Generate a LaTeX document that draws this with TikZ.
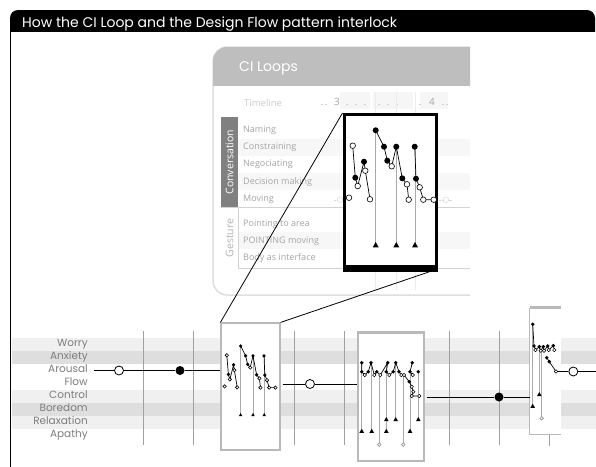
\documentclass[tikz,border=0pt]{standalone}
\usepackage{fontspec}
\setmainfont{Open Sans}
\newfontfamily\headfont{Poppins}
\usetikzlibrary{positioning}
\definecolor{bandlight}{RGB}{240,240,240}
\definecolor{banddark}{RGB}{222,222,222}
\definecolor{moodgray}{RGB}{125,125,125}
\definecolor{panelgray}{RGB}{190,190,190}
\definecolor{convgray}{RGB}{128,128,128}
\definecolor{rowgray}{RGB}{165,165,165}
\definecolor{gridgray}{RGB}{160,160,160}
\definecolor{stemgray}{RGB}{170,170,170}

\begin{document}
\begin{tikzpicture}[x=1pt,y=-1pt]
    % Style definitions
    \tikzset{
      mood/.style={font=\headfont\fontsize{10.5}{11}\selectfont, text=moodgray, anchor=east, inner sep=0pt, text height=7.5pt, text depth=2pt},
      rowlbl/.style={font=\fontsize{9}{10}\selectfont, text=rowgray, anchor=west, inner sep=0pt},
      gridln/.style={draw=gridgray, line width=0.7pt},
      flowbox/.style={draw=gray!55, fill=white, line width=1.2pt, inner sep=0pt},
      flowline/.style={draw=black, line width=0.9pt},
      chain/.style={draw=black, line width=0.7pt},
      stem/.style={draw=stemgray, line width=0.5pt},
      hollow/.style={draw=black, fill=white, line width=0.6pt},
      openmark/.style={circle, draw=black, fill=white, line width=0.8pt, minimum size=9pt, inner sep=0pt},
      fullmark/.style={circle, fill=black, minimum size=9pt, inner sep=0pt},
    }
    % small upward triangle at (#1,#2) with half width #3
    \newcommand{\flowtri}[3]{\fill (#1-#3,#2+0.8*#3) -- (#1,#2-#3) -- (#1+#3,#2+0.8*#3) -- cycle;}
    % ------------------------------------------------------------------
    % Helper macro: one CI loop trace, top-left at (#1,#2), scaled by #3
    % ------------------------------------------------------------------
    \newcommand{\ciloop}[3]{%
      \begin{scope}[shift={(#1,#2)}, scale=#3]
        \foreach \sx/\sy in {32.7/17.3, 53.3/33.7, 72/33.7}
          \draw[stem] (\sx,\sy) -- (\sx,131.7);
        \foreach \sx in {32.7,53.3,72}
          \flowtri{\sx}{132}{3};
        \draw[chain] (9.7,32.7) -- (12.3,64.7) -- (14.7,73) -- (21,48.7) -- (22.3,57.7) -- (27,86.3);
        \draw[chain] (32.7,17.3) -- (41,33.7) -- (44.3,47.7) -- (48.7,53.3) -- (53.3,33.7)
          -- (59.3,65.3) -- (64,71.3) -- (65.7,86.7);
        \draw[chain] (71.7,33.7) -- (73,65.7) -- (76.7,74.3) -- (80.3,86.7) -- (90.7,86.7);
        \foreach \px/\py in {12.3/64.7, 21/48.7, 32.7/17.3, 41/33.7, 44.3/47.7, 53.3/33.7,
                             59.3/65.3, 71.7/33.7, 73/65.7}
          \fill (\px,\py) circle (3);
        \foreach \px/\py in {6/84.7, 9.7/32.7, 14.7/73, 22.3/57.7, 27/86.3, 48.7/53.3,
                             64/71.3, 65.7/86.7, 76.7/74.3, 80.3/86.7, 90.7/86.7}
          \filldraw[hollow] (\px,\py) circle (2.8);
      \end{scope}%
    }
    \useasboundingbox (0,0) rectangle (596,466);
    \clip (0,0) rectangle (596,466);

    % Title bar and frame
    \fill[black, rounded corners=8pt] (10,10) rectangle (595,44);
    \fill[white] (11.4,32) rectangle (596,50);
    \draw[line width=1.4pt] (10.7,30) -- (10.7,480);
    \node[font=\headfont\fontsize{14}{15}\selectfont, text=white, anchor=base west, inner sep=0pt]
      (title) at (22,27) {How the CI Loop and the Design Flow pattern interlock};

    % ------------------------------------------------------------------
    % CI Loops panel
    % ------------------------------------------------------------------
    \draw[draw=gray!25, line width=1.5pt, fill=white, rounded corners=14pt]
      (470,295) -- (213,295) -- (213,47) -- (470,47);
    \begin{scope}
      \clip (205,40) rectangle (470,85);
      \fill[panelgray, rounded corners=14pt] (213,47) rectangle (500,120);
    \end{scope}
    \node[font=\headfont\fontsize{14}{15}\selectfont, text=white, anchor=west, inner sep=0pt]
      (cihead) at (239,68) {CI Loops};

    % timeline row
    \foreach \tx/\tw in {340/30, 373/40, 420/28}
      \fill[gray!7] (\tx,92) rectangle (\tx+\tw,109);
    \node[rowlbl, text=gray!40, font=\fontsize{9.5}{10}\selectfont] (timeline) at (244,103) {Timeline};
    \node[font=\fontsize{10}{11}\selectfont, text=gray!70, inner sep=0pt] (tthree) at (337,102) {3};
    \node[font=\fontsize{10}{11}\selectfont, text=gray!70, inner sep=0pt] (tfour) at (432,102) {4};
    \foreach \tx in {322,326,347,356,365,379,388,397,420,443,447}
      \draw[gray!35, line width=0.6pt] (\tx-1.2,104) -- (\tx+1.2,104);

    % row shading
    \foreach \ry in {139,173,232}
      \fill[gray!6] (238,\ry) rectangle (470,\ry+17);

    % row groups
    \fill[convgray] (221,117) rectangle (238,207);
    \node[rotate=90, text=white, font=\fontsize{10.5}{11}\selectfont, inner sep=0pt]
      (conv) at (229.5,162) {Conversation};
    \node[rotate=90, text=gray!60, font=\fontsize{10.5}{11}\selectfont, inner sep=0pt]
      (gest) at (229.5,238) {Gesture};
    \draw[gray!35, line width=0.8pt] (221,207.5) -- (470,207.5);
    \draw[gray!35, line width=0.8pt] (238,208) -- (238,268) -- (470,268);

    % row labels
    \node[rowlbl] (naming) at (243,130) {Naming};
    \node[rowlbl] (constr) at (243,147) {Constraining};
    \node[rowlbl] (negoc) at (243,164) {Negociating};
    \node[rowlbl] (decis) at (243,182) {Decision making};
    \node[rowlbl] (moving) at (243,199) {Moving};
    \node[rowlbl] (point) at (243,224) {Pointing to area};
    \node[rowlbl] (pointmv) at (243,241) {POINTING moving};
    \node[rowlbl] (body) at (243,258) {Body as interface};

    % faint grid behind the zoomed loop
    \foreach \gx in {375.7,396.3,415}
      \draw[gray!15, line width=0.8pt] (\gx,92) -- (\gx,290);
    \draw[gray!30, densely dotted] (334,199.7) -- (346,199.7);
    \draw[gray!30, densely dotted] (436,199.7) -- (452,199.7);
    \draw[gray!35, fill=white] (340,199.7) circle (2.8);
    \draw[gray!35, fill=white] (446,199.7) circle (2.8);

    % zoomed loop
    \node[draw=black, fill=white, line width=3pt, minimum width=92pt, minimum height=153pt, inner sep=0pt]
      (zoom) at (390,191) {};
    \fill[black] (342.5,264.5) rectangle (437.5,271.5);
    \ciloop{343}{113}{1}

    % ------------------------------------------------------------------
    % Design Flow strip
    % ------------------------------------------------------------------
    \fill[bandlight] (12,337.5) rectangle (596,350.5);
    \fill[banddark] (12,350.5) rectangle (596,363.5);
    \fill[bandlight] (12,389.5) rectangle (596,402.5);
    \fill[banddark] (12,402.5) rectangle (596,415.5);
    \fill[bandlight] (12,415.5) rectangle (596,428.5);

    \node[mood] (worry) at (88,344) {Worry};
    \node[mood] (anxiety) at (88,357) {Anxiety};
    \node[mood] (arousal) at (88,370) {Arousal};
    \node[mood] (flow) at (88,383) {Flow};
    \node[mood] (control) at (88,396) {Control};
    \node[mood] (boredom) at (88,409) {Boredom};
    \node[mood] (relax) at (88,422) {Relaxation};
    \node[mood] (apathy) at (88,435) {Apathy};

    \foreach \gx in {143,193,294,344,449,499}
      \draw[gridln] (\gx,331) -- (\gx,445);
    \draw[gridln] (549,434) -- (549,446);

    % flow boxes
    \node[flowbox, minimum width=59pt, minimum height=127pt] (box1) at (250.5,386.5) {};
    \node[flowbox, minimum width=66pt, minimum height=128pt] (box2) at (391,397) {};
    \draw[gray!55, line width=2.5pt] (box2.north west) -- (box2.north east);
    \node[fill=white, inner sep=0pt, minimum width=31pt, minimum height=126pt] (box3) at (545.5,371) {};
    \draw[gray!55, line width=1.2pt] (box3.north west) -- (box3.south west) -- (box3.south east);
    \draw[gray!55, line width=3pt] (box3.north west) -- (box3.north east);

    % markers and flow lines
    \node[openmark] (m1) at (119,370.5) {};
    \node[fullmark] (m2) at (180,370.5) {};
    \node[openmark] (m3) at (310,384) {};
    \node[fullmark] (m4) at (499,397) {};
    \node[openmark] (m5) at (573.3,371.5) {};
    \coordinate (p3end) at (556,371.5);
    \coordinate (exitpt) at (596,371.5);
    \draw[flowline] ([xshift=6pt]arousal.east |- m1) -- (m1) -- (m2) -- (m2 -| box1.west);
    \draw[flowline] ([xshift=2pt]box1.east |- m3) -- (m3) -- (m3 -| box2.west);
    \draw[flowline] ([xshift=2pt]box2.east |- m4) -- (m4) -- (m4 -| box3.west);
    \draw[line width=0.7pt] (p3end) -- (m5);
    \draw[flowline] (m5) -- (exitpt);

    % loop inside the first box
    \ciloop{221}{335.6}{0.6}

    % loops inside the second box
    \foreach \sx/\sa/\sb in {361.7/362.7/431, 371.7/362.7/431, 386.3/362.7/431, 395.7/362.7/419.3,
                             410/371.7/431, 418.3/371.7/419.3, 379.3/375/444.7, 403.3/375/444.7}
      \draw[stem] (\sx,\sa) -- (\sx,\sb);
    \foreach \px/\py in {361.7/431, 371.7/431, 386.3/431, 410/431, 386.3/419.3, 395.7/419.3, 418.3/419.3}
      \flowtri{\px}{\py}{2.3};
    \draw[chain] (361.7,362.7) -- (361.7,371.7) -- (364.7,375) -- (368.3,371.7) -- (371,362.7)
      -- (374.3,375) -- (376.7,371.7) -- (380.3,375) -- (387.7,362.7) -- (386.3,371.7)
      -- (389.3,375) -- (393.3,371.7) -- (395.7,362.7) -- (399,371.7) -- (401.3,375)
      -- (404,375) -- (409.3,381.7) -- (411.7,386.7) -- (413.3,391.7) -- (411.7,396) -- (419.3,396);
    \draw[chain] (412.3,362.7) -- (410,371.7) -- (412.7,375);
    \foreach \px/\py in {361.7/362.7, 371/362.7, 387.7/362.7, 395.7/362.7, 412.3/362.7, 361.7/371.7,
                         368.3/371.7, 376.7/371.7, 386.3/371.7, 393.3/371.7, 399/371.7, 410/371.7,
                         418.3/371.7, 409.3/381.7}
      \fill (\px,\py) circle (1.9);
    \foreach \px/\py in {364.7/375, 374.3/375, 380.3/375, 389.3/375, 401.3/375, 404/375, 412.7/375,
                         411.7/386.7, 413.3/391.7, 411.7/396, 419.3/396}
      \filldraw[hollow, line width=0.5pt] (\px,\py) circle (1.7);
    \foreach \px/\py in {379.3/444.7, 403.3/444.7}
      \filldraw[draw=gray, fill=white, line width=0.5pt] (\px,\py) circle (1.8);

    % loop inside the third box
    \foreach \sx/\sa/\sb in {532.7/324.3/406, 539.3/346.7/394.3, 541.7/350.7/418.3}
      \draw[stem] (\sx,\sa) -- (\sx,\sb);
    \flowtri{532.7}{406}{2.3}
    \flowtri{539.3}{394.3}{2.3}
    \draw[chain] (532.7,324.3) -- (534,346) -- (535.5,350) -- (539.3,346.7) -- (540.7,350.7)
      -- (543.3,346.7) -- (544,350.7) -- (547.7,346) -- (548.7,350) -- (553.3,345.7) -- (554.3,350);
    \draw[chain] (546.7,357.7) -- (549.3,361.7) -- (p3end);
    \foreach \px/\py in {532.7/324.3, 534/346, 539.3/346.7, 543.3/346.7, 547.7/346, 553.3/345.7,
                         546.7/357.7, 549.3/361.7}
      \fill (\px,\py) circle (1.9);
    \foreach \px/\py in {535.5/350, 540.7/350.7, 544/350.7, 548.7/350, 554.3/350, 556/371.5}
      \filldraw[hollow, line width=0.5pt] (\px,\py) circle (1.7);
    \filldraw[draw=gray, fill=white, line width=0.5pt] (541.7,418.3) circle (1.8);

    % zoom connectors
    \draw[line width=0.8pt] (zoom.north west) -- (box1.north west);
    \draw[line width=0.8pt] (zoom.south east) -- (box1.north east);
\end{tikzpicture}
\end{document}
